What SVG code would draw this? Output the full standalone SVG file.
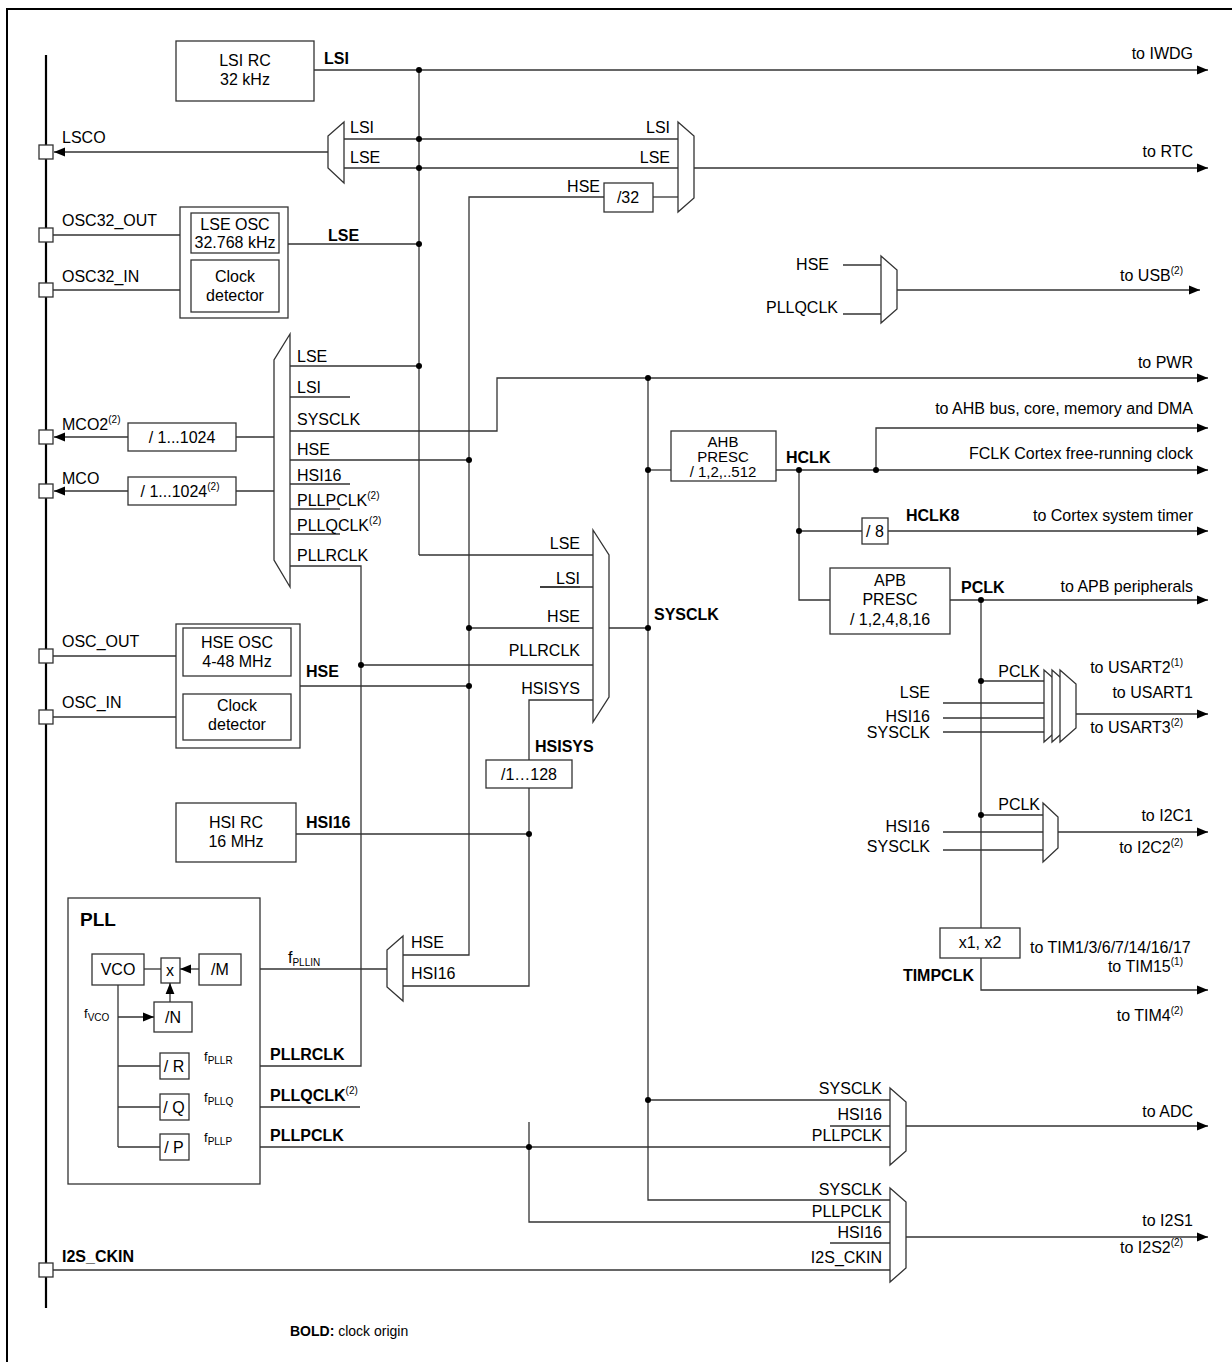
<svg xmlns="http://www.w3.org/2000/svg" width="1232" height="1362" viewBox="0 0 1232 1362">
<defs>
<marker id="a" viewBox="0 0 10 10" refX="10" refY="5" markerWidth="11" markerHeight="11" markerUnits="userSpaceOnUse" orient="auto"><path d="M0,1 L10,5 L0,9 z" style="fill:#000;stroke:none"/></marker>
<style>
text{font-family:"Liberation Sans",Arial,sans-serif;font-size:16px;fill:#000}
.b{font-weight:bold}
.r{text-anchor:end}
.m{text-anchor:middle}
.s{font-size:10px}
line,polyline{stroke:#333;stroke-width:1.3;fill:none}
rect,polygon{stroke:#333;stroke-width:1.3;fill:#fff}
.ar{marker-end:url(#a)}
circle{fill:#000}
</style>
</defs>
<rect x="0" y="0" width="1232" height="1362" style="fill:#fff;stroke:none"/>
<rect x="7" y="9" width="1240" height="1370" style="fill:none;stroke:#000;stroke-width:2"/>
<g id="bus"><line x1="46" y1="55" x2="46" y2="1308" style="stroke:#000;stroke-width:2.2"/>
<rect x="39" y="145" width="14" height="14"/><rect x="39" y="228" width="14" height="14"/><rect x="39" y="283" width="14" height="14"/><rect x="39" y="430" width="14" height="14"/><rect x="39" y="484" width="14" height="14"/><rect x="39" y="649" width="14" height="14"/><rect x="39" y="710" width="14" height="14"/><rect x="39" y="1263" width="14" height="14"/>
<text x="62" y="143">LSCO</text><text x="62" y="226">OSC32_OUT</text><text x="62" y="282">OSC32_IN</text>
<text x="62" y="430">MCO2<tspan class="s" dy="-7">(2)</tspan></text><text x="62" y="484">MCO</text>
<text x="62" y="647">OSC_OUT</text><text x="62" y="708">OSC_IN</text><text x="62" y="1262" class="b">I2S_CKIN</text>
</g>
<g id="connectors">
<line class="ar" x1="314" y1="70" x2="1208" y2="70"/>
<line x1="419" y1="70" x2="419" y2="555"/><line x1="419" y1="555" x2="593" y2="555"/>
<line class="ar" x1="328" y1="152" x2="54" y2="152"/>
<line x1="344" y1="139" x2="678" y2="139"/><line x1="344" y1="168" x2="678" y2="168"/>
<line class="ar" x1="694" y1="168" x2="1208" y2="168"/>
<polyline points="604,197 469,197 469,955 403,955"/><line x1="653" y1="197" x2="678" y2="197"/>
<line x1="288" y1="244" x2="419" y2="244"/>
<line x1="53" y1="235" x2="180" y2="235"/><line x1="53" y1="290" x2="180" y2="290"/>
<line x1="843" y1="265" x2="881" y2="265"/><line x1="843" y1="314" x2="881" y2="314"/>
<line class="ar" x1="897" y1="290" x2="1200" y2="290"/>
<line x1="290" y1="366" x2="419" y2="366"/><line x1="290" y1="397" x2="350" y2="397"/>
<polyline points="290,431 497,431 497,378 1208,378" class="ar"/>
<line x1="290" y1="460" x2="469" y2="460"/><line x1="290" y1="484" x2="350" y2="484"/><line x1="290" y1="509" x2="340" y2="509"/><line x1="290" y1="534" x2="340" y2="534"/>
<polyline points="290,566 361,566 361,1066 189,1066"/>
<line x1="361" y1="665" x2="593" y2="665"/>
<line x1="274" y1="437" x2="236" y2="437"/><line class="ar" x1="128" y1="437" x2="54" y2="437"/>
<line x1="274" y1="491" x2="236" y2="491"/><line class="ar" x1="128" y1="491" x2="54" y2="491"/>
<line x1="540" y1="587" x2="593" y2="587"/><line x1="469" y1="628" x2="593" y2="628"/>
<polyline points="593,700 529,700 529,760"/><polyline points="529,788 529,986 403,986"/>
<line x1="298" y1="686" x2="469" y2="686"/>
<line x1="53" y1="656" x2="176" y2="656"/><line x1="53" y1="717" x2="176" y2="717"/>
<line x1="296" y1="834" x2="529" y2="834"/>
<line x1="609" y1="628" x2="648" y2="628"/>
<polyline points="648,378 648,1200 890,1200"/>
<line x1="648" y1="470" x2="671" y2="470"/>
<line class="ar" x1="776" y1="470" x2="1208" y2="470"/>
<polyline class="ar" points="876,470 876,428 1208,428"/>
<polyline points="799,470 799,600 830,600"/><line x1="799" y1="531" x2="862" y2="531"/>
<line class="ar" x1="888" y1="531" x2="1208" y2="531"/>
<line class="ar" x1="950" y1="600" x2="1208" y2="600"/>
<line x1="981" y1="600" x2="981" y2="928"/><polyline class="ar" points="981,958 981,990 1208,990"/>
<line x1="981" y1="681" x2="1044" y2="681"/>
<line x1="943" y1="703" x2="1044" y2="703"/><line x1="943" y1="718" x2="1044" y2="718"/><line x1="943" y1="732" x2="1044" y2="732"/>
<line class="ar" x1="1076" y1="714" x2="1208" y2="714"/>
<line x1="981" y1="815" x2="1043" y2="815"/><line x1="943" y1="832" x2="1043" y2="832"/><line x1="943" y1="850" x2="1043" y2="850"/>
<line class="ar" x1="1058" y1="832" x2="1208" y2="832"/>
<line class="ar" x1="387" y1="969" x2="242" y2="969"/>
<line x1="648" y1="1100" x2="890" y2="1100"/><line x1="830" y1="1126" x2="890" y2="1126"/>
<line x1="189" y1="1107" x2="360" y2="1107"/>
<line x1="189" y1="1147" x2="890" y2="1147"/>
<polyline points="529,1122 529,1222 890,1222"/>
<line class="ar" x1="906" y1="1126" x2="1208" y2="1126"/>
<line x1="830" y1="1243" x2="890" y2="1243"/><line x1="53" y1="1270" x2="890" y2="1270"/>
<line class="ar" x1="906" y1="1237" x2="1208" y2="1237"/>
<circle cx="419" cy="70" r="3"/><circle cx="419" cy="139" r="3"/><circle cx="419" cy="168" r="3"/><circle cx="419" cy="244" r="3"/><circle cx="419" cy="366" r="3"/>
<circle cx="469" cy="460" r="3"/><circle cx="469" cy="628" r="3"/><circle cx="469" cy="686" r="3"/><circle cx="361" cy="665" r="3"/>
<circle cx="529" cy="834" r="3"/><circle cx="648" cy="378" r="3"/><circle cx="648" cy="470" r="3"/><circle cx="648" cy="628" r="3"/><circle cx="648" cy="1100" r="3"/>
<circle cx="799" cy="470" r="3"/><circle cx="876" cy="470" r="3"/><circle cx="799" cy="531" r="3"/><circle cx="981" cy="600" r="3"/><circle cx="981" cy="681" r="3"/><circle cx="981" cy="815" r="3"/><circle cx="529" cy="1147" r="3"/>
</g>
<g id="lsi"><rect x="176" y="41" width="138" height="60"/><text class="m" x="245" y="66">LSI RC</text><text class="m" x="245" y="85">32 kHz</text><text class="b" x="324" y="64">LSI</text><text class="r" x="1193" y="59">to IWDG</text></g>
<g id="lscomux"><polygon points="344,122 328,136 328,168 344,183"/><text x="350" y="133">LSI</text><text x="350" y="163">LSE</text></g>
<g id="rtcmux"><polygon points="678,122 694,136 694,198 678,212"/><text class="r" x="670" y="133">LSI</text><text class="r" x="670" y="163">LSE</text><text class="r" x="1193" y="157">to RTC</text>
<rect x="604" y="183" width="49" height="29"/><text class="m" x="628" y="203">/32</text><text class="r" x="600" y="192">HSE</text></g>
<g id="lse"><rect x="180" y="207" width="108" height="111"/><rect x="191" y="213" width="88" height="40"/><rect x="191" y="260" width="88" height="52"/>
<text class="m" x="235" y="230">LSE OSC</text><text class="m" x="235" y="248">32.768 kHz</text><text class="m" x="235" y="282">Clock</text><text class="m" x="235" y="301">detector</text><text class="b" x="328" y="241">LSE</text></g>
<g id="usbmux"><polygon points="881,256 897,270 897,309 881,323"/><text class="r" x="829" y="270">HSE</text><text class="r" x="838" y="313">PLLQCLK</text><text class="r" x="1183" y="281">to USB<tspan class="s" dy="-7">(2)</tspan></text></g>
<g id="mcomux"><polygon points="290,334 274,360 274,560 290,587"/>
<text x="297" y="362">LSE</text><text x="297" y="393">LSI</text><text x="297" y="425">SYSCLK</text><text x="297" y="455">HSE</text><text x="297" y="481">HSI16</text><text x="297" y="506">PLLPCLK<tspan class="s" dy="-7">(2)</tspan></text><text x="297" y="531">PLLQCLK<tspan class="s" dy="-7">(2)</tspan></text><text x="297" y="561">PLLRCLK</text>
<rect x="128" y="423" width="108" height="28"/><text class="m" x="182" y="443">/ 1...1024</text>
<rect x="128" y="477" width="108" height="28"/><text class="m" x="180" y="497">/ 1...1024<tspan class="s" dy="-7">(2)</tspan></text></g>
<g id="pwr"><text class="r" x="1193" y="368">to PWR</text><text class="r" x="1193" y="414">to AHB bus, core, memory and DMA</text><text class="r" x="1193" y="459">FCLK Cortex free-running clock</text></g>
<g id="sysmux"><polygon points="593,530 609,555 609,697 593,722"/>
<text class="r" x="580" y="549">LSE</text><text class="r" x="580" y="584">LSI</text><line x1="540" y1="587" x2="580" y2="587"/><text class="r" x="580" y="622">HSE</text><text class="r" x="580" y="656">PLLRCLK</text><text class="r" x="580" y="694">HSISYS</text><text class="b" x="654" y="620">SYSCLK</text></g>
<g id="hsisys"><rect x="486" y="760" width="86" height="28"/><text class="m" x="529" y="780">/1…128</text><text class="b" x="535" y="752">HSISYS</text></g>
<g id="ahb"><rect x="671" y="431" width="105" height="50"/><text class="m" x="723" y="447" style="font-size:15px">AHB</text><text class="m" x="723" y="462" style="font-size:15px">PRESC</text><text class="m" x="723" y="477" style="font-size:15px">/ 1,2,..512</text><text class="b" x="786" y="463">HCLK</text></g>
<g id="div8"><rect x="862" y="518" width="26" height="26"/><text class="m" x="875" y="537">/ 8</text><text class="b" x="906" y="521">HCLK8</text><text class="r" x="1193" y="521">to Cortex system timer</text></g>
<g id="apb"><rect x="830" y="568" width="120" height="66"/><text class="m" x="890" y="586">APB</text><text class="m" x="890" y="605">PRESC</text><text class="m" x="890" y="625">/ 1,2,4,8,16</text><text class="b" x="961" y="593">PCLK</text><text class="r" x="1193" y="592">to APB peripherals</text></g>
<g id="usart"><polygon points="1044,670 1060,684 1060,728 1044,742"/><polygon points="1052,670 1068,684 1068,728 1052,742"/><polygon points="1060,670 1076,684 1076,728 1060,742"/>
<text class="r" x="1040" y="677">PCLK</text><text class="r" x="930" y="698">LSE</text><text class="r" x="930" y="722">HSI16</text><text class="r" x="930" y="738">SYSCLK</text>
<text class="r" x="1183" y="673">to USART2<tspan class="s" dy="-7">(1)</tspan></text><text class="r" x="1193" y="698">to USART1</text><text class="r" x="1183" y="733">to USART3<tspan class="s" dy="-7">(2)</tspan></text></g>
<g id="i2c"><polygon points="1043,803 1058,817 1058,848 1043,862"/><text class="r" x="1040" y="810">PCLK</text><text class="r" x="930" y="832">HSI16</text><text class="r" x="930" y="852">SYSCLK</text>
<text class="r" x="1193" y="821">to I2C1</text><text class="r" x="1183" y="853">to I2C2<tspan class="s" dy="-7">(2)</tspan></text></g>
<g id="tim"><rect x="940" y="928" width="80" height="30"/><text class="m" x="980" y="948">x1, x2</text><text class="b r" x="974" y="981">TIMPCLK</text>
<text x="1030" y="953">to TIM1/3/6/7/14/16/17</text><text class="r" x="1183" y="972">to TIM15<tspan class="s" dy="-7">(1)</tspan></text><text class="r" x="1183" y="1021">to TIM4<tspan class="s" dy="-7">(2)</tspan></text></g>
<g id="hse"><rect x="176" y="624" width="124" height="124"/><rect x="183" y="628" width="108" height="48"/><rect x="183" y="694" width="108" height="46"/>
<text class="m" x="237" y="648">HSE OSC</text><text class="m" x="237" y="667">4-48 MHz</text><text class="m" x="237" y="711">Clock</text><text class="m" x="237" y="730">detector</text><text class="b" x="306" y="677">HSE</text></g>
<g id="hsi"><rect x="176" y="803" width="120" height="59"/><text class="m" x="236" y="828">HSI RC</text><text class="m" x="236" y="847">16 MHz</text><text class="b" x="306" y="828">HSI16</text></g>
<g id="pllmux"><polygon points="403,936 387,950 387,987 403,1001"/><text x="411" y="948">HSE</text><text x="411" y="979">HSI16</text>
<text x="288" y="963">f<tspan class="s" dy="3">PLLIN</tspan></text></g>
<g id="pll"><rect x="68" y="898" width="192" height="286"/><text class="b" x="80" y="926" style="font-size:19px">PLL</text>
<rect x="92" y="954" width="52" height="31"/><text class="m" x="118" y="975">VCO</text>
<rect x="161" y="958" width="19" height="25"/><text class="m" x="170" y="976">x</text>
<rect x="199" y="954" width="42" height="31"/><text class="m" x="220" y="975">/M</text>
<line x1="144" y1="969" x2="161" y2="969"/><line class="ar" x1="199" y1="969" x2="180" y2="969"/>
<rect x="154" y="1002" width="38" height="30"/><text class="m" x="173" y="1023">/N</text>
<line class="ar" x1="170" y1="1002" x2="170" y2="983"/>
<line x1="118" y1="985" x2="118" y2="1147"/><line class="ar" x1="118" y1="1017" x2="154" y2="1017"/>
<text x="84" y="1018" style="font-size:13px">f<tspan class="s" dy="3">VCO</tspan></text>
<line x1="118" y1="1066" x2="160" y2="1066"/><line x1="118" y1="1107" x2="160" y2="1107"/><line x1="118" y1="1147" x2="160" y2="1147"/>
<rect x="160" y="1053" width="29" height="26"/><text class="m" x="174" y="1072">/ R</text>
<rect x="160" y="1094" width="29" height="26"/><text class="m" x="174" y="1113">/ Q</text>
<rect x="160" y="1134" width="29" height="26"/><text class="m" x="174" y="1153">/ P</text>
<text x="204" y="1061" style="font-size:13px">f<tspan class="s" dy="3">PLLR</tspan></text><text x="204" y="1102" style="font-size:13px">f<tspan class="s" dy="3">PLLQ</tspan></text><text x="204" y="1142" style="font-size:13px">f<tspan class="s" dy="3">PLLP</tspan></text>
<text class="b" x="270" y="1060">PLLRCLK</text><text class="b" x="270" y="1101">PLLQCLK<tspan class="s" style="font-weight:normal" dy="-7">(2)</tspan></text><text class="b" x="270" y="1141">PLLPCLK</text></g>
<g id="adcmux"><polygon points="890,1088 906,1102 906,1151 890,1165"/><text class="r" x="882" y="1094">SYSCLK</text><text class="r" x="882" y="1120">HSI16</text><text class="r" x="882" y="1141">PLLPCLK</text><text class="r" x="1193" y="1117">to ADC</text></g>
<g id="i2smux"><polygon points="890,1188 906,1202 906,1268 890,1282"/><text class="r" x="882" y="1195">SYSCLK</text><text class="r" x="882" y="1217">PLLPCLK</text><text class="r" x="882" y="1238">HSI16</text><text class="r" x="882" y="1263">I2S_CKIN</text>
<text class="r" x="1193" y="1226">to I2S1</text><text class="r" x="1183" y="1253">to I2S2<tspan class="s" dy="-7">(2)</tspan></text></g>
<g id="legend"><text x="290" y="1336" style="font-size:14px"><tspan class="b">BOLD:</tspan> clock origin</text></g>
</svg>
